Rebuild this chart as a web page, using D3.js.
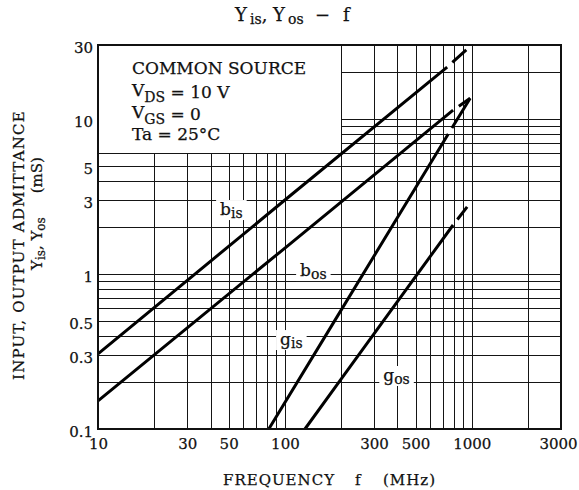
<!DOCTYPE html>
<html>
<head>
<meta charset="utf-8">
<script src="https://cdn.jsdelivr.net/npm/d3@7/dist/d3.min.js"></script>
<style>
  body { margin: 0; background: #fff; }
  text { font-family: "DejaVu Serif", serif; fill: #111; stroke: #111; stroke-width: 0.25px; }
</style>
</head>
<body>
<svg id="chart" width="579" height="490"></svg>
<script>
// Yis, Yos - f   (common source admittance vs frequency, log-log)

// axes
var xTicks = [10, 30, 50, 100, 300, 500, 1000, 3000]
var yTicks = [0.1, 0.3, 0.5, 1, 3, 5, 10, 30]
var xGrid = [20, 30, 40, 50, 60, 70, 80, 90, 100, 200, 300, 400, 500, 600, 700, 800, 900, 1000, 2000]
var yGrid = [0.2, 0.3, 0.4, 0.5, 0.6, 0.7, 0.8, 0.9, 1, 2, 3, 4, 5, 6, 7, 8, 9, 10, 20]

// curves: [MHz, mS]; solid part, then the dashed tail
var bisPts = [[10, 0.305], [100, 3.0], [738, 21.6]]
var bisTail = [[738, 21.6], [934, 27.9]]
var bosPts = [[10, 0.152], [100, 1.47], [794, 11.4]]
var bosTail = [[794, 11.4], [980, 13.6]]
var gisPts = [[82, 0.1], [181, 0.48], [748, 8.0]]
var gisTail = [[748, 8.0], [980, 13.6]]
var gosPts = [[128, 0.1], [198, 0.207], [794, 2.07]]
var gosTail = [[794, 2.07], [944, 2.71]]

// curve names (main letter + subscript) and where they are written [MHz, mS]
var curveNames = [['b', 'is'], ['b', 'os'], ['g', 'is'], ['g', 'os']]
var labelAt = [[45, 2.4], [120.6, 0.97], [94.2, 0.348], [336, 0.204]]

// condition box text
var legendLines = [['COMMON SOURCE'], ['V', 'DS', ' = 10 V'], ['V', 'GS', ' = 0'], ['Ta = 25°C']]

var svg = d3.select('#chart')
var margin = {top: 45, right: 18, bottom: 61, left: 98}
var width = 579 - margin.left - margin.right
var height = 490 - margin.top - margin.bottom

var g = svg.append('g').attr('transform', 'translate(' + margin.left + ',' + margin.top + ')')

var x = d3.scaleLog().domain([10, 3000]).range([0, width])
var y = d3.scaleLog().domain([0.1, 30]).range([height, 0])

// grid: the box in the upper left (below 200 MHz, above 6 mS) stays blank
var grid = g.append('g').attr('stroke', '#151515').attr('stroke-width', 1).attr('shape-rendering', 'crispEdges')
grid.selectAll('.vg').data(xGrid).enter().append('line')
    .attr('x1', function(d) { return Math.round(x(d)) + 0.5 })
    .attr('x2', function(d) { return Math.round(x(d)) + 0.5 })
    .attr('y1', height)
    .attr('y2', function(d) { return d < 200 ? y(6) : 0 })
grid.selectAll('.hg').data(yGrid).enter().append('line')
    .attr('y1', function(d) { return Math.round(y(d)) + 0.5 })
    .attr('y2', function(d) { return Math.round(y(d)) + 0.5 })
    .attr('x1', function(d) { return d > 6 ? x(200) : 0 })
    .attr('x2', width)

var masks = g.append('g')
var curves = g.append('g')
var labels = g.append('g')

// frame
g.append('rect')
    .attr('width', width).attr('height', height)
    .attr('fill', 'none').attr('stroke', '#111').attr('stroke-width', 2)

var line = d3.line()
    .x(function(d) { return x(d[0]) })
    .y(function(d) { return y(d[1]) })

;[bisPts, bosPts, gisPts, gosPts].forEach(function(pts) {
  curves.append('path').datum(pts)
      .attr('fill', 'none').attr('stroke', '#000').attr('stroke-width', 3)
      .attr('d', line)
})
;[bisTail, bosTail, gisTail, gosTail].forEach(function(pts) {
  curves.append('path').datum(pts)
      .attr('fill', 'none').attr('stroke', '#000').attr('stroke-width', 3)
      .attr('stroke-dasharray', '0 7 100')
      .attr('d', line)
})

// curve labels, each with a white patch knocking out the grid
curveNames.forEach(function(n, i) {
  var t = labels.append('text')
      .attr('x', x(labelAt[i][0])).attr('y', y(labelAt[i][1]))
      .attr('font-size', '17px')
  t.append('tspan').text(n[0])
  t.append('tspan').attr('font-size', '14px').attr('dy', 3).text(n[1])
  var bb = t.node().getBBox()
  masks.append('rect')
      .attr('x', bb.x - 4).attr('y', bb.y + 1)
      .attr('width', bb.width + 8).attr('height', bb.height - 2)
      .attr('fill', '#fff')
})

// condition box
legendLines.forEach(function(l, i) {
  var t = g.append('text')
      .attr('x', 34).attr('y', 29 + i * 22)
      .attr('font-size', '17px')
  t.append('tspan').text(l[0])
  if (l.length > 1) {
    t.append('tspan').attr('font-size', '14px').attr('dy', 6).text(l[1])
    t.append('tspan').attr('dy', -4).text(l[2])
  }
})

// tick labels
g.append('g')
    .attr('transform', 'translate(0,' + height + ')')
    .call(d3.axisBottom(x).tickValues(xTicks).tickSize(0).tickPadding(9).tickFormat(d3.format('d')))
    .call(function(a) { a.select('.domain').remove() })
    .selectAll('text').attr('font-family', '"DejaVu Serif", serif').attr('font-size', '15px').attr('fill', '#111')
    .attr('dx', function(d) { return d === 3000 ? -3 : 0 })

g.append('g')
    .call(d3.axisLeft(y).tickValues(yTicks).tickSize(0).tickPadding(5).tickFormat(function(d) { return d }))
    .call(function(a) { a.select('.domain').remove() })
    .selectAll('text').attr('font-family', '"DejaVu Serif", serif').attr('font-size', '15px').attr('fill', '#111')
    .attr('dy', '0.5em')

// titles
var title = svg.append('text').attr('y', 21).attr('font-size', '18px')
title.append('tspan').attr('x', 235).text('Y')
title.append('tspan').attr('x', 250).attr('font-size', '14px').attr('dy', 3).text('is')
title.append('tspan').attr('dy', -3).text(',')
title.append('tspan').attr('x', 273).text('Y')
title.append('tspan').attr('x', 288).attr('font-size', '14px').attr('dy', 3).text('os')
title.append('tspan').attr('x', 315).attr('dy', -3).text('−')
title.append('tspan').attr('x', 343).text('f')

var xt = svg.append('text').attr('y', 485).attr('font-size', '15px').attr('letter-spacing', '1px')
xt.append('tspan').attr('x', 223).text('FREQUENCY')
xt.append('tspan').attr('x', 355).text('f')
xt.append('tspan').attr('x', 383).text('(MHz)')

svg.append('text')
    .attr('transform', 'translate(24,380) rotate(-90)')
    .attr('font-size', '15px')
    .attr('letter-spacing', '1.2px')
    .text('INPUT, OUTPUT ADMITTANCE')

var yt = svg.append('text')
    .attr('transform', 'translate(42,270) rotate(-90)')
    .attr('font-size', '15px')
yt.append('tspan').text('Y')
yt.append('tspan').attr('font-size', '12px').attr('dy', 3).text('is')
yt.append('tspan').attr('dy', -3).text(', Y')
yt.append('tspan').attr('font-size', '12px').attr('dy', 3).text('os')
yt.append('tspan').attr('dy', -3).attr('dx', 24).text('(mS)')
</script>
</body>
</html>
